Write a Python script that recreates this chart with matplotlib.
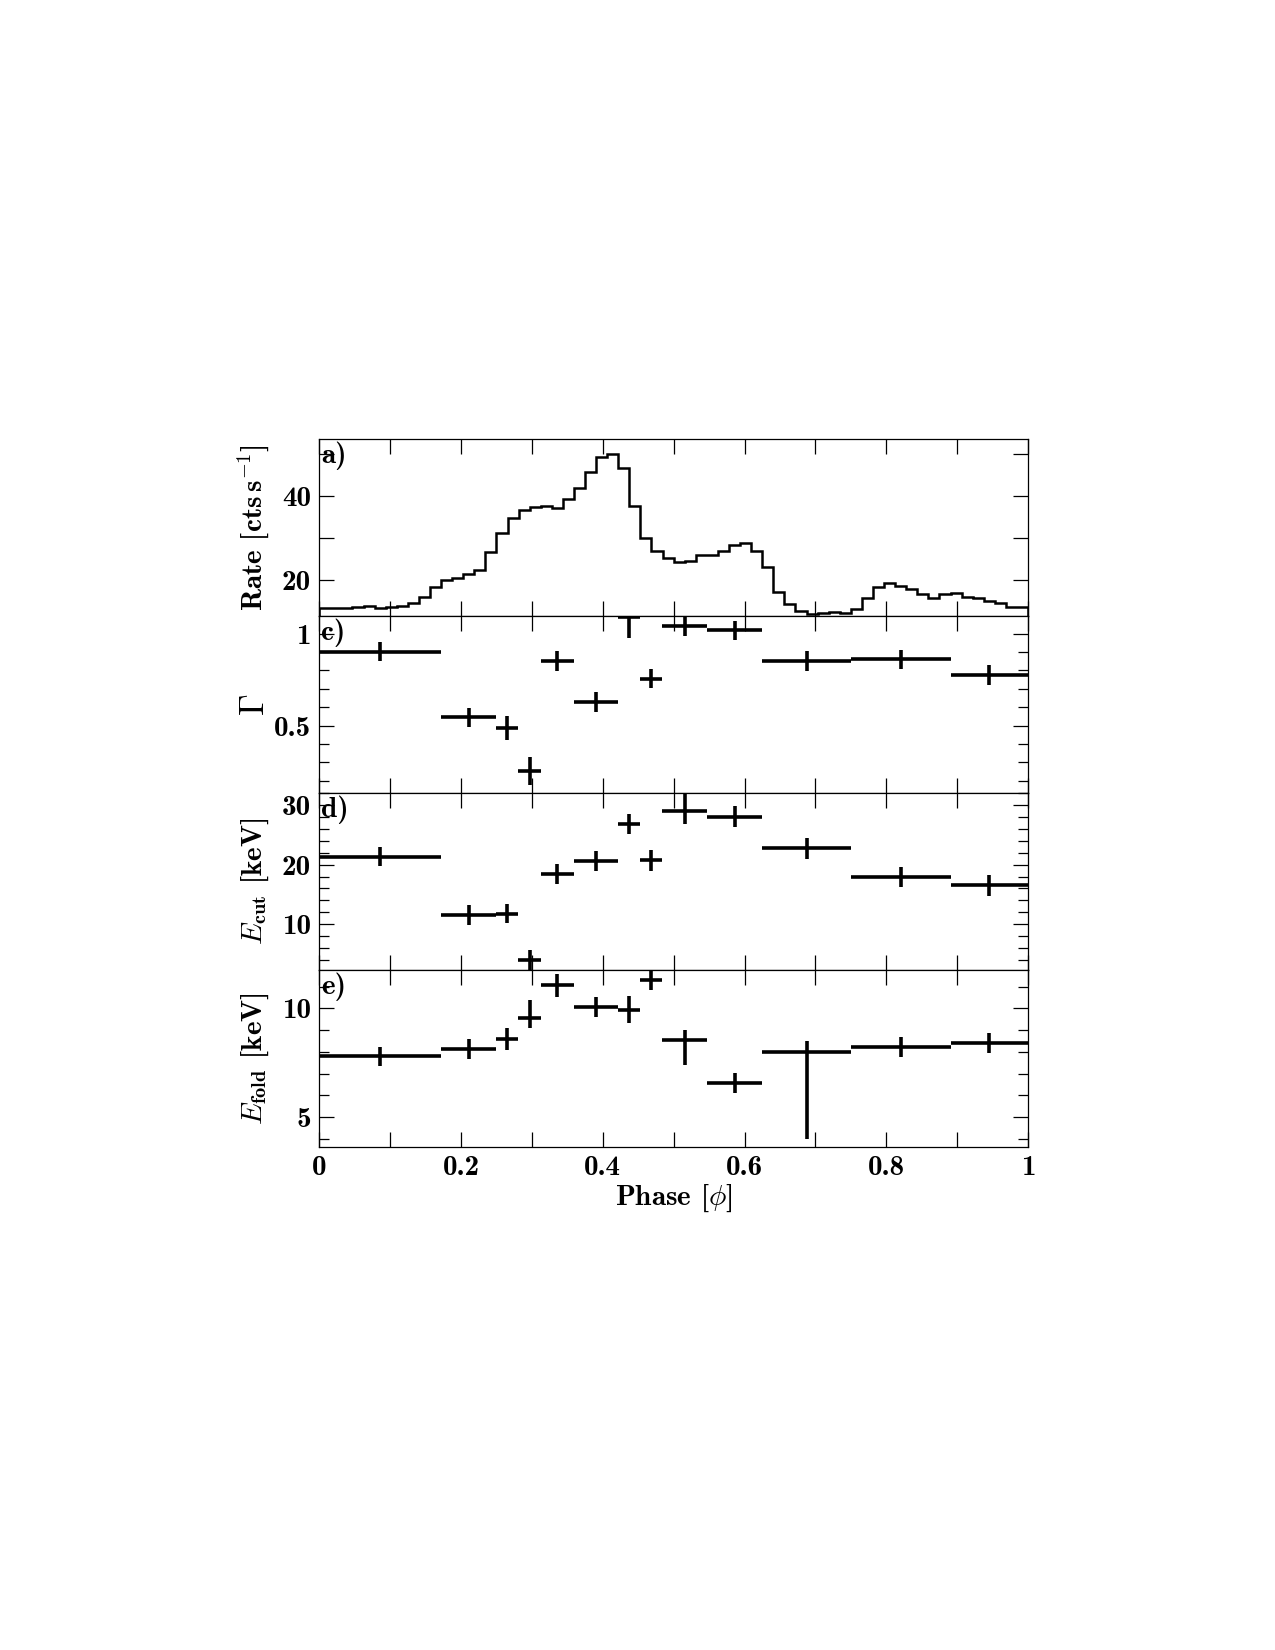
import numpy as np
import matplotlib
matplotlib.use("Agg")
import matplotlib.pyplot as plt
from matplotlib.ticker import MultipleLocator, FuncFormatter

plt.rcParams['font.family'] = 'cmb10'
plt.rcParams['mathtext.fontset'] = 'cm'
plt.rcParams['axes.unicode_minus'] = False
plt.rcParams['font.size'] = 21

# pulse profile, 64 phase bins
rate = [13.5, 13.4, 13.4, 13.7, 13.9, 13.4, 13.7, 14.0, 14.7, 16.0,
        18.5, 20.1, 20.6, 21.5, 22.4, 26.6, 31.1, 34.8, 36.6, 37.5,
        37.7, 37.2, 39.3, 41.8, 45.8, 49.2, 50.0, 46.6, 37.6, 30.0,
        27.0, 25.2, 24.3, 24.6, 26.0, 26.0, 27.0, 28.3, 28.8, 27.0,
        23.2, 17.2, 14.4, 12.8, 11.9, 12.3, 12.5, 12.3, 13.2, 15.7,
        18.4, 19.3, 18.7, 17.9, 16.8, 15.9, 16.8, 17.0, 16.1, 15.7,
        15.0, 14.5, 13.7, 13.6]
lc_edges = np.linspace(0, 1, len(rate) + 1)

# phase resolved spectroscopy bins
edges = [0, 0.172, 0.25, 0.281, 0.3125, 0.359, 0.422, 0.453, 0.484,
         0.547, 0.625, 0.75, 0.891, 1.0]

gamma = [0.902, 0.546, 0.489, 0.255, 0.85, 0.63, 1.089, 0.754, 1.042,
         1.018, 0.85, 0.861, 0.774]
gamma_err = [0.052, 0.052, 0.065, 0.076, 0.054, 0.054, 0.114, 0.052, 0.054,
             0.052, 0.053, 0.052, 0.054]

ecut = [21.3, 11.6, 11.8, 4.07, 18.4, 20.6, 26.8, 20.7, 29.05, 28.05,
        22.7, 17.96, 16.5]
ecut_lo = [1.6, 1.65, 1.6, 1.8, 1.65, 1.7, 1.6, 1.7, 2.3, 1.7, 1.7, 1.7, 1.7]
ecut_hi = [1.6, 1.65, 1.6, 1.7, 1.65, 1.7, 1.6, 1.7, 3.0, 1.7, 1.7, 1.7, 1.7]

efold = [7.79, 8.13, 8.61, 9.54, 11.09, 10.06, 9.94, 11.33, 8.55, 6.57,
         7.99, 8.22, 8.41]
efold_lo = [0.45, 0.45, 0.5, 0.46, 0.54, 0.46, 0.61, 0.46, 1.13, 0.46, 4.0, 0.45, 0.46]
efold_hi = [0.45, 0.45, 0.5, 0.83, 0.51, 0.46, 0.64, 0.5, 0.46, 0.46, 0.52, 0.45, 0.46]

edges = np.array(edges)
xc = (edges[:-1] + edges[1:]) / 2
xw = (edges[1:] - edges[:-1]) / 2

fig = plt.figure(figsize=(12.75, 16.5), dpi=100)
left, width, h = 0.2504, 0.5559, 0.1073
tops = [0.7339, 0.6267, 0.5194, 0.4121]
axes = [fig.add_axes([left, t - h, width, h]) for t in tops]


def num(v, pos):
    s = ('%.1f' % v).rstrip('0').rstrip('.')
    return s


def only(step):
    def f(v, pos):
        if abs(v / step - round(v / step)) < 1e-6:
            return num(v, pos)
        return ''
    return f


for ax in axes:
    ax.set_xlim(0, 1)
    ax.xaxis.set_major_locator(MultipleLocator(0.1))
    ax.tick_params(which='both', direction='in', top=True, right=True, width=0.9)
    ax.tick_params(which='major', length=11, pad=6)
    ax.tick_params(which='minor', length=7)
    for sp in ax.spines.values():
        sp.set_linewidth(0.9)
    ax.xaxis.set_major_formatter(FuncFormatter(lambda v, p: ''))

# a) light curve
ax = axes[0]
ax.stairs(rate, lc_edges, color='black', lw=1.8)
ax.set_ylim(11.5, 53.5)
ax.yaxis.set_major_locator(MultipleLocator(10))
ax.yaxis.set_major_formatter(FuncFormatter(only(20)))
ax.set_ylabel(r'Rate [cts$\,$s$^{-1}$]')

ebkw = dict(fmt='none', ecolor='black', elinewidth=2.6, capsize=0)

# c) photon index
ax = axes[1]
ax.errorbar(xc, gamma, xerr=xw, yerr=gamma_err, **ebkw)
ax.set_ylim(0.134, 1.096)
ax.yaxis.set_major_locator(MultipleLocator(0.5))
ax.yaxis.set_minor_locator(MultipleLocator(0.1))
ax.yaxis.set_major_formatter(FuncFormatter(num))
ax.set_ylabel(r'$\Gamma$', fontsize=25)

# d) cutoff energy
ax = axes[2]
ax.errorbar(xc, ecut, xerr=xw, yerr=[ecut_lo, ecut_hi], **ebkw)
ax.set_ylim(2.33, 32.0)
ax.yaxis.set_major_locator(MultipleLocator(10))
ax.yaxis.set_minor_locator(MultipleLocator(2))
ax.yaxis.set_major_formatter(FuncFormatter(num))
ax.set_ylabel(r'$E_{\mathbf{cut}}$ [keV]')

# e) folding energy
ax = axes[3]
ax.errorbar(xc, efold, xerr=xw, yerr=[efold_lo, efold_hi], **ebkw)
ax.set_ylim(3.62, 11.77)
ax.yaxis.set_major_locator(MultipleLocator(5))
ax.yaxis.set_minor_locator(MultipleLocator(1))
ax.yaxis.set_major_formatter(FuncFormatter(num))
ax.set_ylabel(r'$E_{\mathbf{fold}}$ [keV]')
ax.xaxis.set_major_formatter(FuncFormatter(only(0.2)))
ax.set_xlabel(r'Phase [$\phi$]', labelpad=1)

for ax, lab in zip(axes, ['a)', 'c)', 'd)', 'e)']):
    ax.text(0.003, 0.985, lab, transform=ax.transAxes, ha='left', va='top')
    ax.yaxis.set_label_coords(-0.068, 0.5)

fig.savefig('out.png', dpi=100)
